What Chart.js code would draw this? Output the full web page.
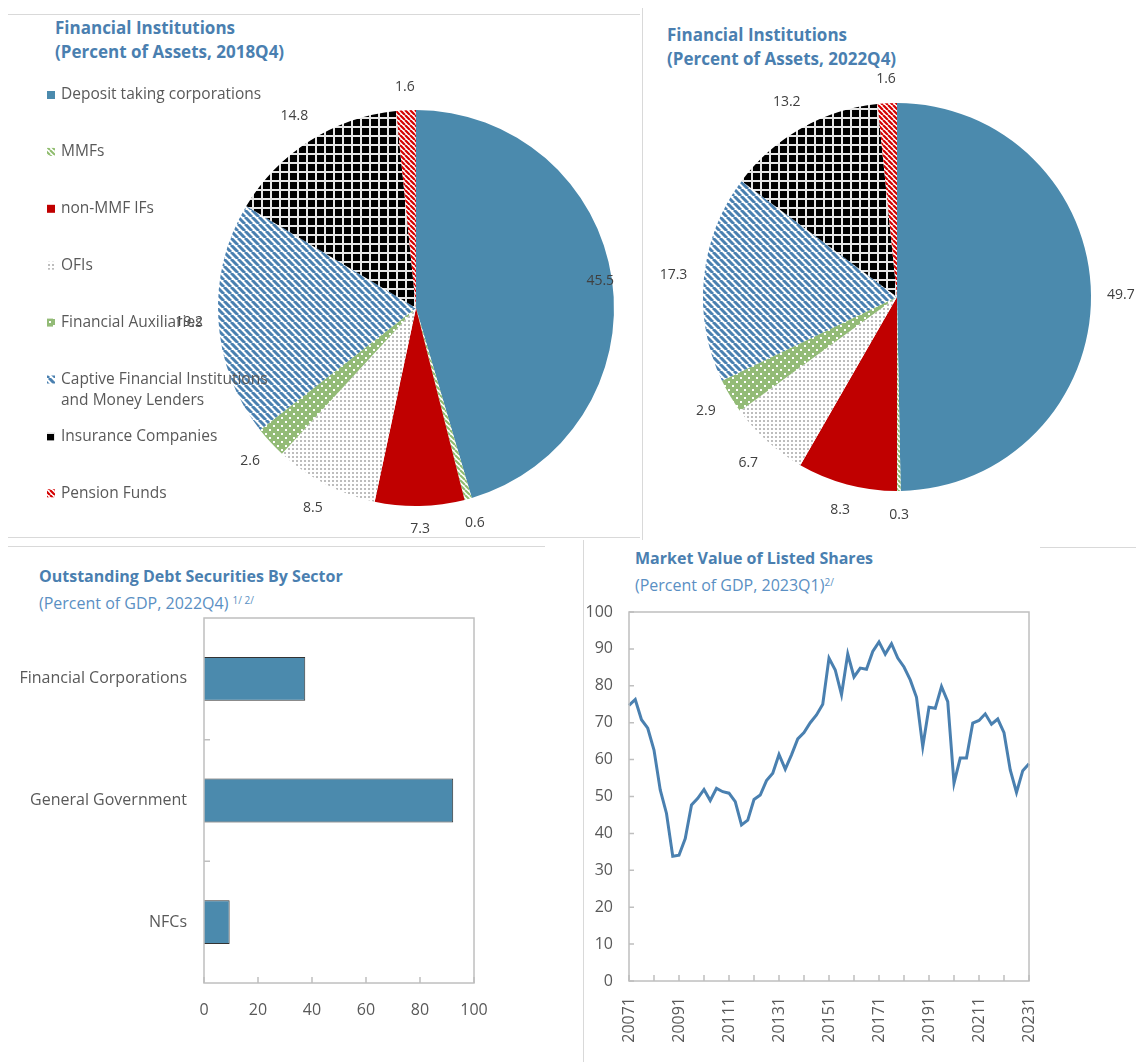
<!DOCTYPE html>
<html>
<head>
<meta charset="utf-8">
<script src="https://cdn.jsdelivr.net/npm/chart.js@4.4.0/dist/chart.umd.min.js"></script>
<style>
  body { margin: 0; background: #fff; font-family: "Open Sans", sans-serif; }
  #page { position: relative; width: 1136px; height: 1062px; overflow: hidden; }
  .rule { position: absolute; background: #d9d9d9; }
  .title { position: absolute; color: #4a7fb0; font-weight: 700; line-height: 24px; white-space: nowrap; }
  .sub { font-weight: 400; color: #5a8fc3; }
  .sub sup { font-size: 10px; vertical-align: 5px; }
  canvas { position: absolute; }
</style>
</head>
<body>
<div id="page">
  <div class="rule" style="left:8px;top:14px;width:632px;height:1px"></div>
  <div class="rule" style="left:642px;top:8px;width:1px;height:532px"></div>
  <div class="rule" style="left:8px;top:537px;width:632px;height:1px"></div>
  <div class="rule" style="left:8px;top:546px;width:537px;height:1px"></div>
  <div class="rule" style="left:1040px;top:547px;width:96px;height:1px"></div>
  <div class="rule" style="left:583px;top:540px;width:1px;height:522px"></div>

  <div class="title" style="left:55px;top:16px;font-size:17px">Financial Institutions<br>(Percent of Assets, 2018Q4)</div>
  <div class="title" style="left:667px;top:23px;font-size:17px">Financial Institutions<br>(Percent of Assets, 2022Q4)</div>
  <div class="title" style="left:39px;top:564px;font-size:16px">Outstanding Debt Securities By Sector<br><span class="sub" style="font-size:16px">(Percent of GDP, 2022Q4) <sup>1/ 2/</sup></span></div>
  <div class="title" style="left:635px;top:546px;font-size:16px">Market Value of Listed Shares<br><span class="sub" style="font-size:16px">(Percent of GDP, 2023Q1)<sup>2/</sup></span></div>

  <canvas id="pie2018" width="640" height="540" style="left:0;top:0"></canvas>
  <canvas id="pie2022" width="493" height="545" style="left:643px;top:0"></canvas>
  <canvas id="debtChart" width="560" height="514" style="left:0;top:548px"></canvas>
  <canvas id="sharesChart" width="552" height="514" style="left:584px;top:548px"></canvas>
</div>

<script>
// ---- data ----
const institutions = [
  'Deposit taking corporations',
  'MMFs',
  'non-MMF IFs',
  'OFIs',
  'Financial Auxiliaries',
  ['Captive Financial Institutions', 'and Money Lenders'],
  'Insurance Companies',
  'Pension Funds',
];
const assets2018 = [45.5, 0.6, 7.3, 8.5, 2.6, 19.2, 14.8, 1.6];
const assets2022 = [49.7, 0.3, 8.3, 6.7, 2.9, 17.3, 13.2, 1.6];

const sectors = ['Financial Corporations', 'General Government', 'NFCs'];
const debtValues = [37.5, 92.3, 9.5];

const quarters = [];
for (let y = 2007; y <= 2023; y++) {
  for (let q = 1; q <= 4; q++) {
    if (y === 2023 && q > 1) break;
    quarters.push(`${y}${q}`);
  }
}
const sharesValues = [
  74.7, 76.3, 70.8, 68.5,
  62.6, 51.8, 45.4, 33.8,
  34.1, 38.6, 47.7, 49.5,
  51.9, 48.9, 52.2, 51.3,
  50.9, 48.6, 42.3, 43.6,
  49.2, 50.4, 54.3, 56.3,
  61.4, 57.4, 61.3, 65.6,
  67.3, 70.0, 72.1, 75.0,
  87.5, 84.3, 77.6, 88.6,
  82.4, 84.8, 84.5, 89.3,
  91.9, 88.6, 91.4, 87.5,
  85.1, 81.6, 76.9, 63.5,
  74.2, 73.9, 79.8, 75.7,
  53.6, 60.4, 60.4, 69.9,
  70.6, 72.4, 69.6, 71.0,
  67.3, 57.2, 51.1, 57.0,
  58.9,
];

// ---- styling helpers ----
Chart.defaults.font.family = '"Open Sans", sans-serif';
Chart.defaults.color = '#595959';

function makePattern(bg, size, draw) {
  const c = document.createElement('canvas');
  c.width = c.height = size;
  const x = c.getContext('2d');
  x.fillStyle = bg;
  x.fillRect(0, 0, size, size);
  draw(x, size);
  return x.createPattern(c, 'repeat');
}

function stripes(color, width) {
  return (x, s) => {
    x.strokeStyle = color;
    x.lineWidth = width;
    x.beginPath();
    for (const k of [-s, 0, s]) {
      x.moveTo(k, 0);
      x.lineTo(k + s, s);
    }
    x.stroke();
  };
}

const sliceColors = [
  '#4b8aad',
  makePattern('#ffffff', 5, stripes('#8fbc6e', 2)),
  '#c00000',
  makePattern('#ffffff', 4, (x) => { x.fillStyle = '#bdbdbd'; x.fillRect(0, 0, 2, 2); }),
  makePattern('#93bb77', 8, (x) => {
    x.fillStyle = '#ffffff';
    x.fillRect(1, 1, 2, 2);
    x.fillRect(5, 5, 2, 2);
  }),
  makePattern('#ffffff', 7, stripes('#4a80b0', 3)),
  makePattern('#000000', 9, (x, s) => {
    x.fillStyle = '#e6e6e6';
    x.fillRect(0, 0, 2, s);
    x.fillRect(0, 0, s, 2);
  }),
  makePattern('#ffffff', 5, stripes('#d40000', 2.2)),
];

// value labels round the pie: the label box sits a fixed gap outside the rim
const sliceLabels = {
  id: 'sliceLabels',
  afterDatasetsDraw(chart, args, opts) {
    const ctx = chart.ctx;
    const values = chart.data.datasets[0].data;
    const inside = opts.inside || [];
    ctx.save();
    ctx.font = '14px "Open Sans"';
    ctx.fillStyle = '#404040';
    ctx.textAlign = 'center';
    ctx.textBaseline = 'middle';
    chart.getDatasetMeta(0).data.forEach((arc, i) => {
      const p = arc.getProps(['x', 'y', 'startAngle', 'endAngle', 'outerRadius'], true);
      const mid = (p.startAngle + p.endAngle) / 2;
      const text = values[i].toFixed(1);
      const dx = Math.cos(mid), dy = Math.sin(mid);
      let r;
      if (inside.includes(i)) {
        r = p.outerRadius * 0.94;
      } else {
        const hw = ctx.measureText(text).width / 2;
        r = p.outerRadius + opts.gap + Math.abs(dx) * hw + Math.abs(dy) * 8;
      }
      ctx.fillText(text, p.x + dx * r, p.y + dy * r);
    });
    ctx.restore();
  },
};

// legend on the left of the first pie, drawn over it
const sideLegend = {
  id: 'sideLegend',
  afterDraw(chart, args, opts) {
    if (!opts.show) return;
    const ctx = chart.ctx;
    const colors = chart.data.datasets[0].backgroundColor;
    ctx.save();
    ctx.font = '15.5px "Open Sans"';
    ctx.textBaseline = 'middle';
    chart.data.labels.forEach((label, i) => {
      const y = opts.top + i * opts.step;
      ctx.fillStyle = colors[i];
      ctx.fillRect(opts.left, y - 4, 8, 8);
      ctx.fillStyle = '#595959';
      [].concat(label).forEach((line, j) => ctx.fillText(line, opts.left + 14, y + j * 21));
    });
    ctx.restore();
  },
};

// plot frame plus short inner tick marks
const frame = {
  id: 'frame',
  afterDraw(chart, args, opts) {
    const {ctx, chartArea: a, scales} = chart;
    ctx.save();
    ctx.strokeStyle = '#bfbfbf';
    ctx.lineWidth = 1.5;
    ctx.strokeRect(a.left, a.top, a.right - a.left, a.bottom - a.top);
    ctx.beginPath();
    const xs = scales.x;
    xs.ticks.forEach((t, i) => {
      if (i % opts.xEvery) return;
      const px = xs.getPixelForTick(i);
      ctx.moveTo(px, a.bottom);
      ctx.lineTo(px, a.bottom - 6);
    });
    const ys = scales.y;
    if (opts.yBetween) {
      for (let i = 0; i < ys.ticks.length - 1; i++) {
        const py = (ys.getPixelForTick(i) + ys.getPixelForTick(i + 1)) / 2;
        ctx.moveTo(a.left, py);
        ctx.lineTo(a.left + 6, py);
      }
    } else {
      ys.ticks.forEach((t, i) => {
        const py = ys.getPixelForTick(i);
        ctx.moveTo(a.left, py);
        ctx.lineTo(a.left + 5, py);
      });
    }
    ctx.stroke();
    ctx.restore();
  },
};

function pieChart(id, values, padding, labelOpts, legendOpts) {
  return new Chart(document.getElementById(id), {
    type: 'pie',
    data: {
      labels: institutions,
      datasets: [{data: values, backgroundColor: sliceColors, borderWidth: 0}],
    },
    options: {
      responsive: false,
      animation: false,
      layout: {padding: padding},
      plugins: {
        legend: {display: false},
        tooltip: {enabled: false},
        sliceLabels: labelOpts,
        sideLegend: legendOpts,
      },
    },
    plugins: [sliceLabels, sideLegend],
  });
}

pieChart('pie2018', assets2018,
  {left: 218, right: 26, top: 110, bottom: 34},
  {inside: [0], gap: 15},
  {show: true, left: 47, top: 95, step: 56.9});

pieChart('pie2022', assets2022,
  {left: 60, right: 45, top: 103, bottom: 54},
  {inside: [], gap: 16},
  {show: false});

const hiddenGrid = {display: false, drawTicks: false};

new Chart(document.getElementById('debtChart'), {
  type: 'bar',
  data: {
    labels: sectors,
    datasets: [{
      data: debtValues,
      backgroundColor: '#4b8aad',
      borderColor: '#333333',
      borderWidth: 1,
      barPercentage: 0.36,
      categoryPercentage: 1,
    }],
  },
  options: {
    indexAxis: 'y',
    responsive: false,
    animation: false,
    layout: {padding: {left: 0, right: 86, top: 70, bottom: 0}},
    plugins: {
      legend: {display: false},
      tooltip: {enabled: false},
      frame: {xEvery: 1, yBetween: true},
    },
    scales: {
      x: {
        min: 0,
        max: 100,
        ticks: {stepSize: 20, padding: 18, font: {size: 16}, color: '#595959'},
        grid: hiddenGrid,
        border: {display: false},
        afterFit: (s) => { s.height = 79; },
      },
      y: {
        ticks: {padding: 17, font: {size: 16}, color: '#595959'},
        grid: hiddenGrid,
        border: {display: false},
        afterFit: (s) => { s.width = 204; },
      },
    },
  },
  plugins: [frame],
});

new Chart(document.getElementById('sharesChart'), {
  type: 'line',
  data: {
    labels: quarters,
    datasets: [{
      data: sharesValues,
      borderColor: '#4a80b0',
      borderWidth: 3,
      pointRadius: 0,
      tension: 0,
      fill: false,
    }],
  },
  options: {
    responsive: false,
    animation: false,
    layout: {padding: {left: 0, right: 107, top: 64, bottom: 0}},
    plugins: {
      legend: {display: false},
      tooltip: {enabled: false},
      frame: {xEvery: 4, yBetween: false},
    },
    scales: {
      x: {
        ticks: {
          autoSkip: false,
          minRotation: 90,
          maxRotation: 90,
          padding: 16,
          font: {size: 16},
          color: '#595959',
          callback: function (v, i) {
            return i % 8 === 0 ? this.getLabelForValue(v) : '';
          },
        },
        grid: hiddenGrid,
        border: {display: false},
        afterFit: (s) => { s.height = 81; },
      },
      y: {
        min: 0,
        max: 100,
        ticks: {stepSize: 10, padding: 16, font: {size: 16}, color: '#595959'},
        grid: hiddenGrid,
        border: {display: false},
        afterFit: (s) => { s.width = 45; },
      },
    },
  },
  plugins: [frame],
});
</script>
</body>
</html>
